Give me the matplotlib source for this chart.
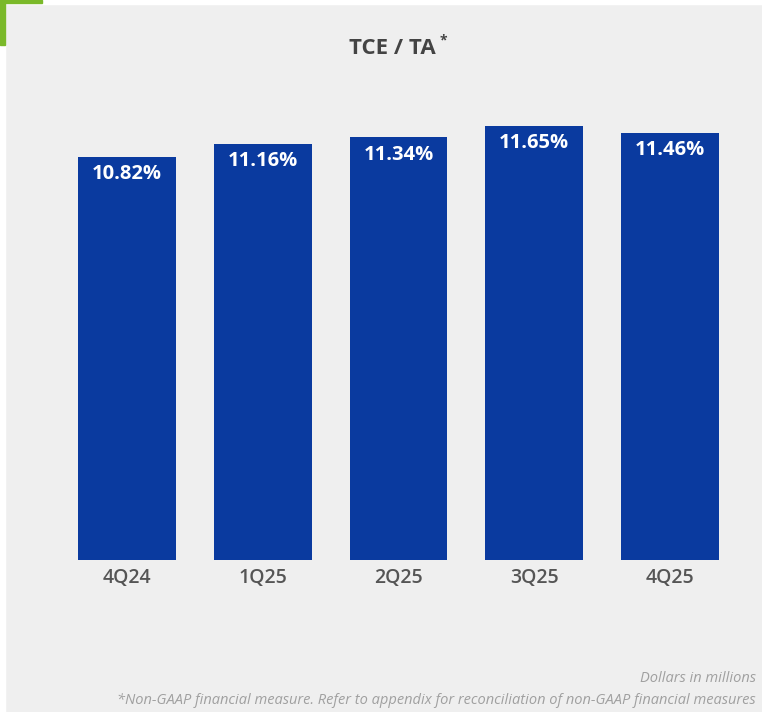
import matplotlib
matplotlib.use("Agg")
import matplotlib.pyplot as plt
from matplotlib.patches import Rectangle

quarters = ["4Q24", "1Q25", "2Q25", "3Q25", "4Q25"]
tce_ta = [10.82, 11.16, 11.34, 11.65, 11.46]

BAR_COLOR = "#0a3a9f"
BG = "#efefef"
FONT = "Open Sans"

fig = plt.figure(figsize=(7.62, 7.12), dpi=100, facecolor=BG)
W, H = 762., 712.

# axes placed so bar centres / baseline line up with the reference
ax = fig.add_axes([59/W, 1 - 560/H, (738 - 59)/W, (560 - 94)/H])
ax.set_facecolor(BG)

xs = list(range(len(quarters)))
ax.bar(xs, tce_ta, width=0.72, color=BAR_COLOR)
for x, v in zip(xs, tce_ta) :
    ax.annotate("{0:.2f}%".format(v), (x, v), xytext=(0, -12.5), textcoords="offset points",
                ha="center", va="center", color="white", fontsize=14.5,
                fontweight="bold", family=FONT)

ax.set_xlim(-0.5, len(quarters) - 0.5)
ax.set_ylim(0, 12.5)
ax.set_xticks(xs)
ax.set_xticklabels(quarters, fontsize=14, color="#555555", family=FONT, fontweight="semibold")
ax.tick_params(axis="x", length=0, pad=6)
ax.set_yticks([])
for s in ax.spines.values() :
    s.set_visible(False)

fig.text(392/W, 1 - 48/H, "TCE / TA", ha="center", va="center", fontsize=16,
         fontweight="bold", color="#444444", family=FONT)
fig.text(443/W, 1 - 40/H, "*", ha="center", va="center", fontsize=10,
         fontweight="bold", color="#444444", family=FONT)

fig.text(756/W, 1 - 678/H, "Dollars in millions", ha="right", va="center",
         fontsize=10.5, style="italic", color="#a0a0a0", family=FONT)
fig.text(756/W, 1 - 700/H,
         "*Non-GAAP financial measure. Refer to appendix for reconciliation of non-GAAP financial measures",
         ha="right", va="center", fontsize=10.5, style="italic", color="#a0a0a0", family=FONT)

# thin white frame and green corner accent
fig.patches.append(Rectangle((0, 0), 5/W, 1, transform=fig.transFigure, color="white", zorder=0))
fig.patches.append(Rectangle((0, 1 - 4/H), 1, 4/H, transform=fig.transFigure, color="white", zorder=0))
fig.patches.append(Rectangle((0, 1 - 45/H), 5/W, 45/H, transform=fig.transFigure, color="#7ab929", zorder=1))
fig.patches.append(Rectangle((0, 1 - 3/H), 42/W, 3/H, transform=fig.transFigure, color="#7ab929", zorder=1))

fig.savefig("out.png", dpi=100, facecolor=BG)
